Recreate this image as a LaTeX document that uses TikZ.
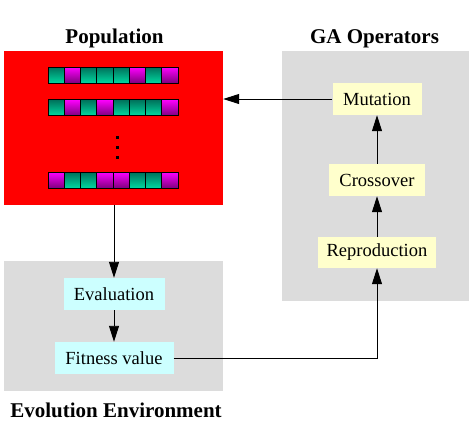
\documentclass[tikz,border=0pt]{standalone}
\usepackage{fontspec}
\setmainfont{Liberation Serif}
\usetikzlibrary{arrows.meta,calc}
\definecolor{popred}{HTML}{FF0000}
\definecolor{panelgray}{HTML}{DCDCDC}
\definecolor{opyellow}{HTML}{FFFFCC}
\definecolor{evcyan}{HTML}{CCFFFF}
\definecolor{gtop}{HTML}{00705A}
\definecolor{gbot}{HTML}{00D8A0}
\definecolor{mtop}{HTML}{FF00FF}
\definecolor{mbot}{HTML}{80007F}
\tikzset{
  title/.style={font=\rmfamily\fontsize{21}{24}\selectfont\bfseries, inner sep=0pt, anchor=base},
  opbox/.style={fill=opyellow, inner sep=0pt, font=\rmfamily\fontsize{18.5}{21}\selectfont},
  evbox/.style={fill=evcyan, inner sep=0pt, font=\rmfamily\fontsize{18.5}{21}\selectfont},
  conn/.style={line width=0.9pt},
  arr/.style={conn, -{Triangle[length=16pt,width=10pt]}},
  gcell/.style={draw=black, line width=0.9pt, top color=gtop, bottom color=gbot},
  mcell/.style={draw=black, line width=0.9pt, top color=mtop, bottom color=mbot},
}
\begin{document}
\begin{tikzpicture}[x=1pt,y=-1pt]
\useasboundingbox (0,0) rectangle (471,437);
% panels
\node[fill=popred, minimum width=219pt, minimum height=154pt, inner sep=0pt] (pop) at (113.5,128) {};
\node[fill=panelgray, minimum width=187pt, minimum height=250pt, inner sep=0pt] (ga) at (375.5,176) {};
\node[fill=panelgray, minimum width=219pt, minimum height=130pt, inner sep=0pt] (env) at (113.5,326) {};
% titles
\node[title] (tpop) at (114.5,43) {Population};
\node[title] (tga) at (374.5,43) {GA Operators};
\node[title] (tenv) at (116,417) {Evolution Environment};
% chromosomes
\def\cw{16.25}
\foreach \row/\y/\pat in {1/67/{g,m,g,g,g,m,g,m}, 2/99.5/{g,m,g,m,g,g,g,m}, 3/172/{m,g,g,m,m,g,g,m}}{
  \foreach \c [count=\i from 0] in \pat {
    \path[\c cell] (48+\i*\cw,\y) rectangle (48+\i*\cw+\cw,\y+16);
  }
}
% dots
\foreach \dy in {137,147,157}{
  \fill (115.5,\dy-1.5) rectangle (118.5,\dy+1.5);
}
% operator nodes
\node[opbox, minimum width=89pt, minimum height=32pt] (mut) at (377,99) {Mutation};
\node[opbox, minimum width=96pt, minimum height=32pt] (cro) at (377,180) {Crossover};
\node[opbox, minimum width=118pt, minimum height=31pt] (rep) at (377,252.5) {Reproduction};
% evaluation nodes
\node[evbox, minimum width=101pt, minimum height=32pt] (eva) at (114,294) {Evaluation};
\node[evbox, minimum width=119pt, minimum height=32pt] (fit) at (114,358) {Fitness value};
% connectors
\draw[arr] (pop.south -| eva.north) -- (eva.north);
\draw[arr] (eva.south) -- (fit.north);
\draw[arr] (fit.east) -| (rep.south);
\draw[arr] (rep.north) -- (cro.south);
\draw[arr] (cro.north) -- (mut.south);
\draw[arr] (mut.west) -- (mut.west -| pop.east);
\end{tikzpicture}
\end{document}
